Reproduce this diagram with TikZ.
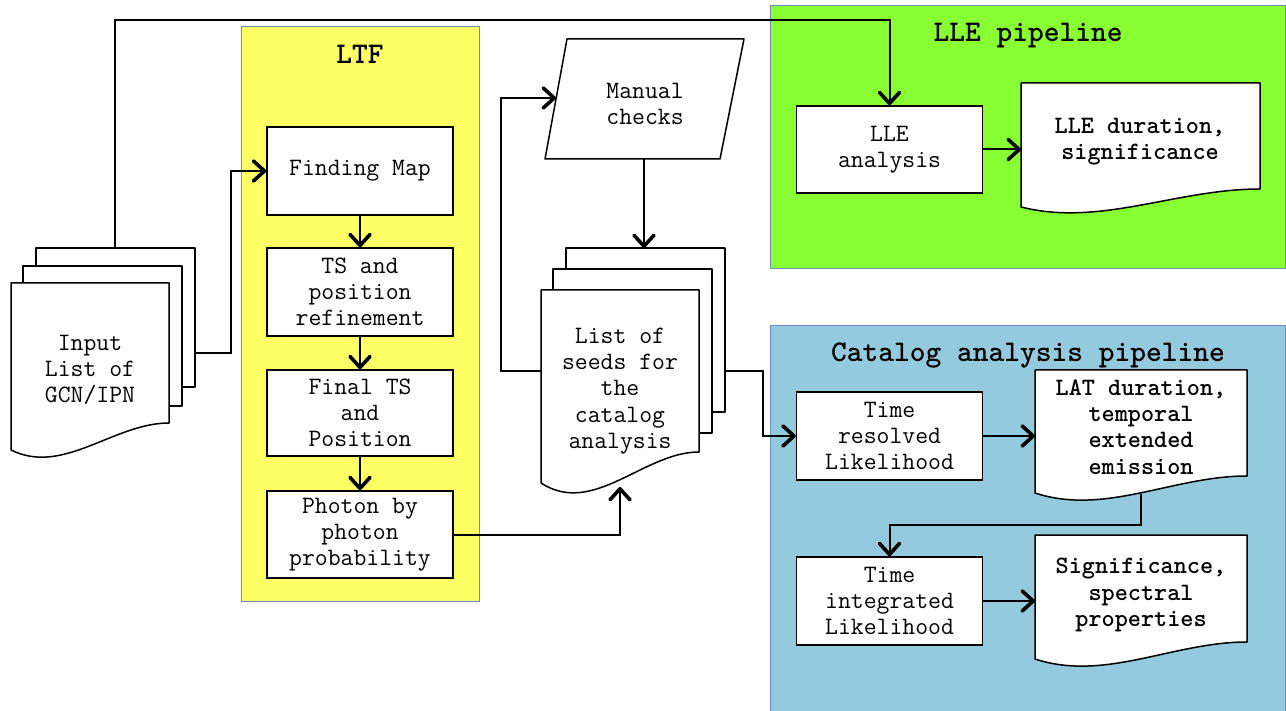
\documentclass[tikz,border=0pt]{standalone}
\usepackage{fontspec}
\usetikzlibrary{arrows.meta}
\definecolor{ltfyellow}{HTML}{FFFF66}
\definecolor{llegreen}{HTML}{88FF33}
\definecolor{catblue}{HTML}{94CADD}
\definecolor{panelborder}{HTML}{6C8EBF}
\newcommand\monof{\ttfamily\fontsize{25}{26.2}\selectfont}
\newcommand\monobf{\ttfamily\bfseries\fontsize{25}{26.2}\selectfont}
\newcommand\titlef{\ttfamily\bfseries\fontsize{30}{31}\selectfont}
\newcommand\docshape[6]{\path[docline] (#1,#2) -- (#3,#2) -- (#3,#4) .. controls ({#1+0.65*(#3-#1)},#4) and ({#1+0.33*(#3-#1)},{#5+#6}) .. (#1,#5) -- cycle;}
\begin{document}
\begin{tikzpicture}[x=1pt,y=-1pt,
  proc/.style={draw=black, line width=1.5pt, fill=white, minimum width=186pt, minimum height=88pt, inner sep=0pt, align=center, font=\monof},
  docline/.style={draw=black, line width=1.5pt, fill=white, line join=round},
  conn/.style={line width=2pt, -{Straight Barb[length=11pt,width=20pt,line width=3.6pt,round]}},
  panel/.style={draw=panelborder, line width=1pt},
  lbl/.style={align=center, font=\monof, inner sep=0pt},
  boldlbl/.style={align=center, font=\monobf, inner sep=0pt},
  titlelbl/.style={font=\titlef, inner sep=0pt}]
\useasboundingbox (0,0) rectangle (1286,711);
\fill[white] (0,0) rectangle (1286,711);
% panels
\path[panel, fill=ltfyellow] (241,27) rectangle (479,601);
\path[panel, fill=llegreen] (770,6) rectangle (1285,269);
\path[panel, fill=catblue] (770,326) rectangle (1285,712);
\node[titlelbl] (ltft) at (360,54) {LTF};
\node[titlelbl] (llet) at (1028,36) {LLE pipeline};
\node[titlelbl] (catt) at (1028,356) {Catalog analysis pipeline};
% input stack
\path[docline] (36,248) rectangle (195,387);
\path[docline] (23,266) rectangle (182,406);
\docshape{11}{283}{169}{423}{450}{26}
\node[lbl] (input) at (90,370) {Input\\List of\\GCN/IPN};
\coordinate (inTop) at (115,248);
\coordinate (inRight) at (195,353);
% LTF
\node[proc] (find) at (360,171) {Finding Map};
\node[proc] (ts) at (360,292) {TS and\\position\\refinement};
\node[proc, minimum height=86pt] (final) at (360,413) {Final TS\\and\\Position};
\node[proc, minimum height=87pt] (photon) at (360,534.5) {Photon by\\photon\\probability};
% manual checks
\path[docline] (567,39) -- (744,39) -- (720,159) -- (545,159) -- cycle;
\node[lbl] (manual) at (645,104) {Manual\\checks};
\coordinate (manLeft) at (556,98);
\coordinate (manBot) at (644,159);
% seeds stack
\path[docline] (566,248) rectangle (725,412);
\path[docline] (553,269) rectangle (712,433);
\docshape{541}{290}{699}{452}{483}{34}
\node[lbl] (seeds) at (620,391) {List of\\seeds for\\the\\catalog\\analysis};
\coordinate (seedTop) at (644,248);
\coordinate (seedLeft) at (541,371);
\coordinate (seedRight) at (725,371);
\coordinate (seedBot) at (620,487);
% LLE
\node[proc, minimum height=87pt] (lle) at (889.5,149.5) {LLE\\analysis};
\docshape{1021}{83}{1260}{189}{207}{20}
\node[boldlbl] (lledoc) at (1140,142) {LLE duration,\\significance};
\coordinate (lleDocW) at (1021,149.5);
% catalog
\node[proc] (tres) at (889.5,436) {Time\\resolved\\Likelihood};
\docshape{1035}{370}{1247}{476}{493}{23}
\node[boldlbl] (latdoc) at (1141,427) {LAT duration,\\temporal\\extended\\emission};
\coordinate (latW) at (1035,436);
\coordinate (latBot) at (1141,494);
\node[proc] (tint) at (889.5,601) {Time\\integrated\\Likelihood};
\docshape{1035}{535}{1247}{642}{659}{23}
\node[boldlbl] (sigdoc) at (1141,595) {Significance,\\spectral\\properties};
\coordinate (sigW) at (1035,601);
% connectors
\draw[conn] (inTop) -- (115,20) -| (lle.north);
\draw[conn] (inRight) -- (231,353) |- (find.west);
\draw[conn] (find.south) -- (ts.north);
\draw[conn] (ts.south) -- (final.north);
\draw[conn] (final.south) -- (photon.north);
\draw[conn] (photon.east) -| (seedBot);
\draw[conn] (seedLeft) -- (501,371) |- (manLeft);
\draw[conn] (manBot) -- (seedTop);
\draw[conn] (seedRight) -- (763,371) |- (tres.west);
\draw[conn] (lle.east) -- (lleDocW);
\draw[conn] (tres.east) -- (latW);
\draw[conn] (latBot) -- (1141,525) -| (tint.north);
\draw[conn] (tint.east) -- (sigW);
\end{tikzpicture}
\end{document}
